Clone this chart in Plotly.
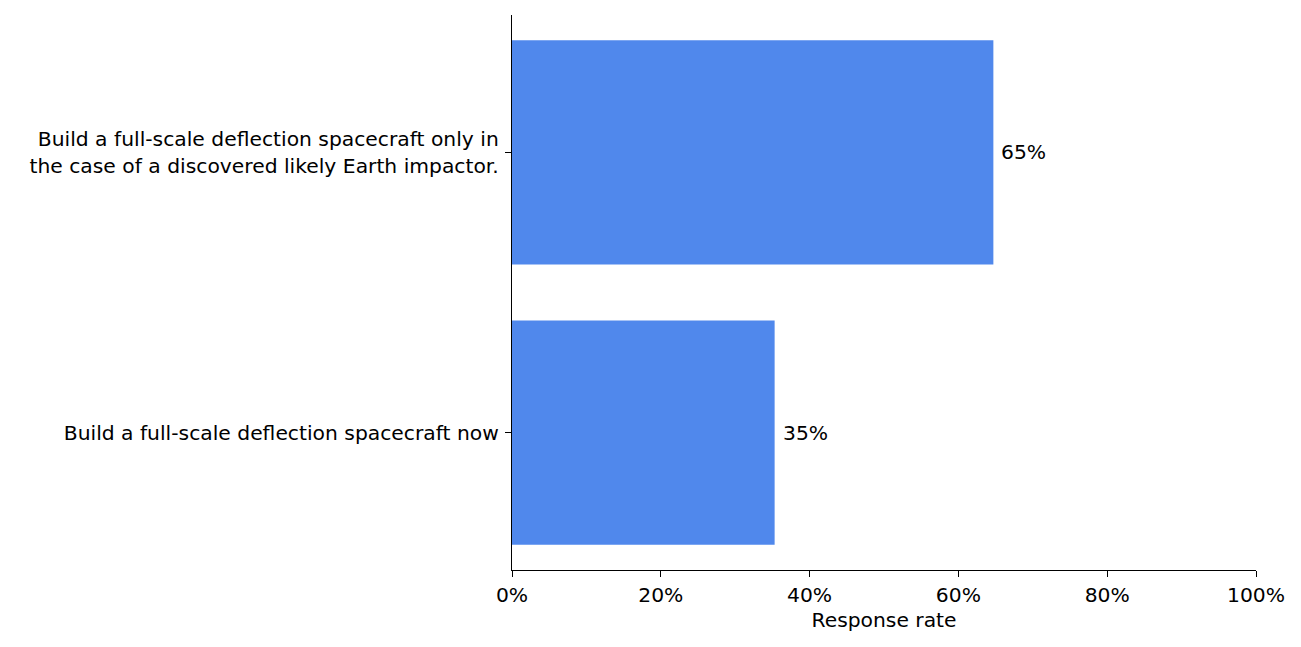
import plotly.graph_objects as go

categories = [
    "Build a full-scale deflection spacecraft now",
    "Build a full-scale deflection spacecraft only in<br>the case of a discovered likely Earth impactor.",
]
values = [35.3, 64.7]
x_ticks = [0, 20, 40, 60, 80, 100]
x_tick_labels = ["0%", "20%", "40%", "60%", "80%", "100%"]

FONT = "DejaVu Sans"
FS = 20.3
BAR_COLOR = "#5088ec"

fig = go.Figure()
fig.add_trace(go.Bar(
    x=values, y=categories, orientation="h",
    marker=dict(color=BAR_COLOR, line=dict(width=0)),
    width=0.8, hoverinfo="skip",
))

for c, v in zip(categories, values):
    fig.add_annotation(
        x=v, y=c, text=f"{round(v)}%", showarrow=False,
        xanchor="left", yanchor="middle", xshift=6,
        font=dict(family=FONT, size=FS, color="black"),
    )

fig.update_layout(
    width=1301, height=647,
    margin=dict(l=504, r=53, t=7, b=85),
    plot_bgcolor="white", paper_bgcolor="white",
    showlegend=False,
    font=dict(family=FONT, size=FS, color="black"),
)
fig.update_xaxes(
    range=[0, 100], tickvals=x_ticks, ticktext=x_tick_labels,
    showgrid=False, zeroline=False,
    showline=True, linecolor="black", linewidth=1.3,
    ticks="outside", ticklen=6, tickwidth=1.3, tickcolor="black",
    title=dict(text="Response rate", font=dict(family=FONT, size=FS), standoff=7),
    tickfont=dict(family=FONT, size=FS),
)
fig.update_yaxes(
    type="category", categoryorder="array", categoryarray=categories,
    range=[-0.49, 1.49],
    showgrid=False, zeroline=False,
    showline=True, linecolor="black", linewidth=1.3,
    ticks="outside", ticklen=6, tickwidth=1.3, tickcolor="black",
    tickfont=dict(family=FONT, size=FS),
    ticklabelstandoff=2,
)

fig.write_html("out.html")
